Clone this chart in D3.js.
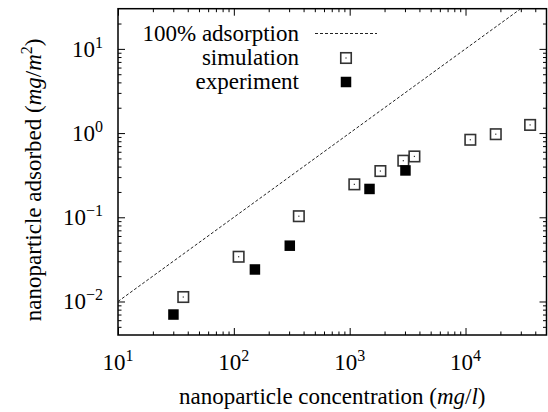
<!DOCTYPE html>
<html>
<head>
<meta charset="utf-8">
<script src="https://cdn.jsdelivr.net/npm/d3@7"></script>
<style>
  body { margin: 0; background: #fff; }
</style>
</head>
<body>
<div id="chart"></div>
<script>
// --- data ---
const simConc = [36.6, 110, 364, 1097, 1841, 2904, 3620, 11000, 18240, 36100];
const simAds  = [0.0113, 0.034, 0.103, 0.246, 0.354, 0.470, 0.528, 0.833, 0.97, 1.25];
const expConc = [30.1, 152, 304, 1483, 3030];
const expAds  = [0.0070, 0.024, 0.046, 0.217, 0.36];
const fullConc = [10, 30000];          // 100% adsorption line
const fullAds  = [0.01, 30];
const xTickExp = [1, 2, 3, 4];
const yTickExp = [-2, -1, 0, 1];
const legendLabels = ["100% adsorption", "simulation", "experiment"];

const width = 548, height = 412;
const margin = { left: 118, right: 1.5, top: 8.7, bottom: 77 };
const serif = "'Liberation Serif', Tinos, 'Times New Roman', Times, 'Nimbus Roman', 'DejaVu Serif', serif";

const x = d3.scaleLog().domain([10, 5e4]).range([margin.left, width - margin.right]);
const y = d3.scaleLog().domain([0.004, 30]).range([height - margin.bottom, margin.top]);

const svg = d3.select("#chart").append("svg")
    .attr("width", width).attr("height", height)
    .attr("font-family", serif)
    .style("display", "block");

svg.append("defs").append("clipPath").attr("id", "clip")
  .append("rect")
    .attr("x", x.range()[0]).attr("y", y.range()[1])
    .attr("width", x.range()[1] - x.range()[0])
    .attr("height", y.range()[0] - y.range()[1]);

// minor tick values: 2..9 in every decade
function minors(domain) {
  const out = [];
  for (let e = -4; e <= 5; e++)
    for (let m = 2; m <= 9; m++) {
      const v = m * Math.pow(10, e);
      if (v > domain[0] && v < domain[1]) out.push(v);
    }
  return out;
}
const xMaj = xTickExp.map(e => Math.pow(10, e));
const yMaj = yTickExp.map(e => Math.pow(10, e));

const x0 = x.range()[0], x1 = x.range()[1];
const y0 = y.range()[0], y1 = y.range()[1];

// ticks on all four sides, pointing inward
function tickAxes(vals, size) {
  svg.append("g").attr("transform", `translate(0,${y0})`)
    .call(d3.axisBottom(x).tickValues(vals).tickSize(-size).tickFormat(""));
  svg.append("g").attr("transform", `translate(0,${y1})`)
    .call(d3.axisTop(x).tickValues(vals).tickSize(-size).tickFormat(""));
}
function tickAxesY(vals, size) {
  svg.append("g").attr("transform", `translate(${x0},0)`)
    .call(d3.axisLeft(y).tickValues(vals).tickSize(-size).tickFormat(""));
  svg.append("g").attr("transform", `translate(${x1},0)`)
    .call(d3.axisRight(y).tickValues(vals).tickSize(-size).tickFormat(""));
}
tickAxes(xMaj, 7);
tickAxes(minors(x.domain()), 3.5);
tickAxesY(yMaj, 7);
tickAxesY(minors(y.domain()), 3.5);
svg.selectAll(".domain").remove();
svg.selectAll(".tick line").attr("stroke", "#000").attr("stroke-width", 1);

// frame
svg.append("rect")
    .attr("x", x0).attr("y", y1).attr("width", x1 - x0).attr("height", y0 - y1)
    .attr("fill", "none").attr("stroke", "#000").attr("stroke-width", 1.5);

// tick labels
function power(sel, e) {
  sel.append("tspan").text("10");
  sel.append("tspan").attr("dy", -9).attr("font-size", 16)
    .text(e < 0 ? "\u2212" + (-e) : e);
}
svg.append("g").selectAll("text").data(xTickExp).join("text")
    .attr("x", d => x(Math.pow(10, d))).attr("y", 370)
    .attr("text-anchor", "middle").attr("font-size", 23)
    .attr("font-family", serif)
    .each(function(d) { power(d3.select(this), d); });
svg.append("g").selectAll("text").data(yTickExp).join("text")
    .attr("x", 103).attr("y", d => y(Math.pow(10, d)) + 8)
    .attr("text-anchor", "end").attr("font-size", 23)
    .attr("font-family", serif)
    .each(function(d) { power(d3.select(this), d); });

// axis titles
const xt = svg.append("text")
    .attr("x", (x0 + x1) / 2).attr("y", 404)
    .attr("text-anchor", "middle").attr("font-size", 23)
    .attr("font-family", serif);
xt.append("tspan").text("nanoparticle concentration (");
xt.append("tspan").attr("font-style", "italic").text("mg");
xt.append("tspan").text("/");
xt.append("tspan").attr("font-style", "italic").text("l");
xt.append("tspan").text(")");

const yt = svg.append("text")
    .attr("transform", `translate(41,${(y0 + y1) / 2 + 8}) rotate(-90)`)
    .attr("text-anchor", "middle").attr("font-size", 23)
    .attr("font-family", serif);
yt.append("tspan").text("nanoparticle adsorbed (");
yt.append("tspan").attr("font-style", "italic").text("mg");
yt.append("tspan").text("/");
yt.append("tspan").attr("font-style", "italic").text("m");
yt.append("tspan").attr("dy", -9).attr("font-size", 16).text("2");
yt.append("tspan").attr("dy", 9).text(")");

// 100% adsorption line
const plot = svg.append("g").attr("clip-path", "url(#clip)");
const line = d3.line().x(d => x(d[0])).y(d => y(d[1]));
plot.append("path")
    .datum(d3.zip(fullConc, fullAds))
    .attr("d", line)
    .attr("fill", "none").attr("stroke", "#222").attr("stroke-width", 1)
    .attr("stroke-dasharray", "3,2");

const ms = 10.5;
function openSquare(g) {
  g.append("rect")
      .attr("x", -ms / 2).attr("y", -ms / 2).attr("width", ms).attr("height", ms)
      .attr("fill", "#fff").attr("stroke", "#333").attr("stroke-width", 1.6);
  g.append("rect")
      .attr("x", -0.6).attr("y", -0.6).attr("width", 1.2).attr("height", 1.2)
      .attr("fill", "#333");
}
function filledSquare(g) {
  g.append("rect")
      .attr("x", -ms / 2).attr("y", -ms / 2).attr("width", ms).attr("height", ms)
      .attr("fill", "#000");
}

plot.append("g").selectAll("g").data(d3.zip(simConc, simAds)).join("g")
    .attr("transform", d => `translate(${x(d[0])},${y(d[1])})`)
    .each(function() { openSquare(d3.select(this)); });
plot.append("g").selectAll("g").data(d3.zip(expConc, expAds)).join("g")
    .attr("transform", d => `translate(${x(d[0])},${y(d[1])})`)
    .each(function() { filledSquare(d3.select(this)); });

// legend
const legRows = [33.5, 58, 82];
const leg = svg.append("g");
leg.selectAll("text").data(legendLabels).join("text")
    .attr("x", 299).attr("y", (d, i) => legRows[i] + 7)
    .attr("text-anchor", "end").attr("font-size", 23)
    .attr("font-family", serif)
    .text(d => d);
leg.append("line")
    .attr("x1", 315).attr("x2", 377).attr("y1", legRows[0]).attr("y2", legRows[0])
    .attr("stroke", "#222").attr("stroke-width", 1).attr("stroke-dasharray", "3,2");
openSquare(leg.append("g").attr("transform", `translate(346,${legRows[1]})`));
filledSquare(leg.append("g").attr("transform", `translate(346,${legRows[2]})`));
</script>
</body>
</html>
